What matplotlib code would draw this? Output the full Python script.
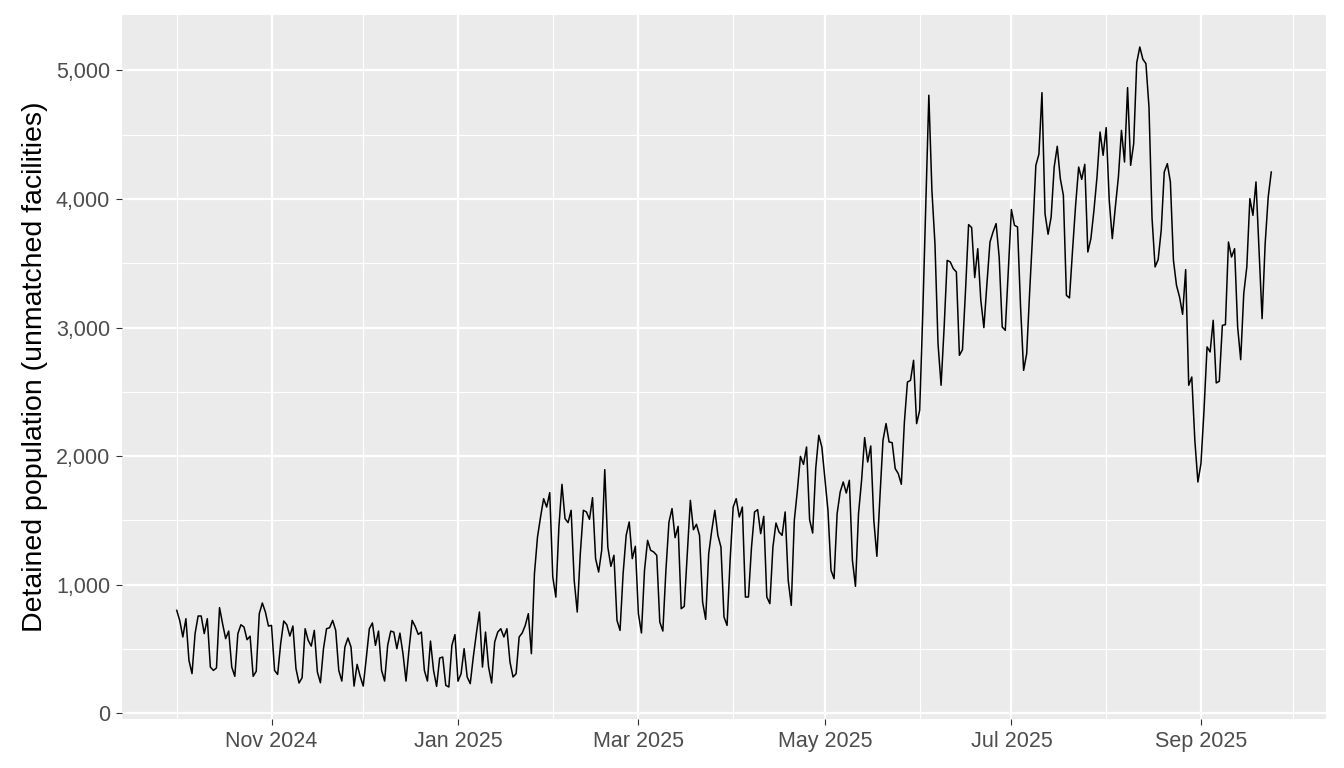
import numpy as np
import pandas as pd
import matplotlib
matplotlib.use("Agg")
import matplotlib.pyplot as plt
import matplotlib.dates as mdates
from matplotlib.ticker import FuncFormatter, MultipleLocator

plt.rcParams['font.family'] = ['Liberation Sans', 'DejaVu Sans']

# daily values, starting 2024-10-01
start_date = "2024-10-01"
detained = [
    801, 720, 594, 736, 412, 309, 620, 757, 757, 620, 736, 360, 334, 353, 822, 697,
    581, 640, 360, 288, 620, 689, 671, 573, 600, 288, 327, 775, 858, 788, 679, 684,
    334, 303, 542, 718, 689, 601, 679, 348, 236, 277, 658, 568, 523, 645, 322, 238,
    503, 658, 666, 723, 645, 334, 251, 516, 586, 516, 212, 381, 288, 212, 430, 658,
    703, 529, 640, 334, 251, 529, 640, 632, 503, 624, 464, 251, 503, 723, 676, 614,
    632, 334, 251, 562, 334, 210, 430, 438, 218, 205, 529, 612, 250, 308, 503, 283,
    231, 438, 620, 788, 360, 632, 360, 236, 555, 632, 658, 594, 658, 399, 283, 308,
    594, 625, 684, 775, 464, 1086, 1371, 1527, 1669, 1604, 1716, 1060, 904, 1450, 1781, 1514,
    1483, 1579, 1034, 788, 1242, 1579, 1566, 1509, 1677, 1203, 1099, 1268, 1895, 1293, 1143, 1229,
    723, 645, 1086, 1384, 1488, 1203, 1299, 775, 625, 1112, 1345, 1268, 1255, 1229, 710, 640,
    1112, 1488, 1592, 1366, 1454, 814, 832, 1242, 1656, 1428, 1470, 1384, 866, 731, 1242, 1423,
    1579, 1384, 1293, 749, 684, 1190, 1604, 1669, 1527, 1604, 904, 905, 1293, 1566, 1584, 1397,
    1532, 905, 853, 1293, 1480, 1410, 1384, 1566, 1034, 840, 1501, 1734, 1998, 1936, 2071, 1506,
    1402, 1903, 2162, 2071, 1825, 1579, 1112, 1047, 1553, 1721, 1799, 1713, 1812, 1190, 988, 1553,
    1812, 2144, 1954, 2079, 1501, 1221, 1682, 2123, 2253, 2110, 2105, 1903, 1864, 1781, 2265, 2576,
    2589, 2745, 2253, 2356, 3100, 3950, 4806, 4067, 3650, 2875, 2551, 3000, 3522, 3510, 3458, 3432,
    2784, 2828, 3289, 3800, 3777, 3388, 3613, 3211, 2999, 3341, 3665, 3743, 3808, 3548, 3004, 2978,
    3445, 3917, 3795, 3782, 3160, 2667, 2797, 3289, 3750, 4261, 4347, 4826, 3885, 3725, 3860, 4248,
    4409, 4158, 4028, 3250, 3230, 3600, 3950, 4248, 4152, 4269, 3587, 3691, 3911, 4170, 4520, 4339,
    4554, 3989, 3691, 3937, 4170, 4533, 4287, 4865, 4261, 4430, 5060, 5181, 5086, 5052, 4715, 3850,
    3471, 3528, 3756, 4209, 4274, 4132, 3523, 3328, 3237, 3103, 3450, 2551, 2615, 2123, 1799, 1942,
    2356, 2849, 2810, 3056, 2569, 2582, 3017, 3022, 3665, 3548, 3613, 3004, 2750, 3264, 3471, 4002,
    3872, 4132, 3600, 3069, 3652, 4015, 4209,
]
y_label = "Detained population (unmatched facilities)"

dates = pd.date_range(start_date, periods=len(detained), freq="D")

fig = plt.figure(figsize=(13.44, 7.68), dpi=100)
ax = fig.add_axes([122 / 1344, 49 / 768, (1326 - 122) / 1344, (719 - 15) / 768])
ax.set_facecolor("#EBEBEB")

ax.plot(dates, detained, color="black", linewidth=1.1, zorder=3)

# ggplot-like expansion of 5 %
x0, x1 = mdates.date2num(dates[0]), mdates.date2num(dates[-1])
dx = (x1 - x0) * 0.05
ax.set_xlim(x0 - dx, x1 + dx)
ymin, ymax = min(detained), max(detained)
dy = (ymax - ymin) * 0.05
ax.set_ylim(ymin - dy, ymax + dy)

ax.xaxis.set_major_locator(mdates.MonthLocator(bymonth=[1, 3, 5, 7, 9, 11]))
ax.xaxis.set_minor_locator(mdates.MonthLocator(bymonth=[2, 4, 6, 8, 10, 12]))
ax.xaxis.set_major_formatter(mdates.DateFormatter("%b %Y"))
ax.yaxis.set_major_locator(MultipleLocator(1000))
ax.yaxis.set_minor_locator(MultipleLocator(500))
ax.yaxis.set_major_formatter(FuncFormatter(lambda v, p: f"{int(v):,}"))

ax.grid(which="major", color="white", linewidth=1.6, zorder=1)
ax.grid(which="minor", color="white", linewidth=0.8, zorder=1)
ax.set_axisbelow(True)

for s in ax.spines.values():
    s.set_visible(False)

ax.tick_params(which="major", length=4.5, width=0.8, color="#333333",
               labelcolor="#4D4D4D", labelsize=15.5, pad=4)
ax.tick_params(which="minor", length=0)

ax.set_ylabel(y_label, fontsize=20.5, color="black", labelpad=6)

fig.savefig("out.png", dpi=100)
